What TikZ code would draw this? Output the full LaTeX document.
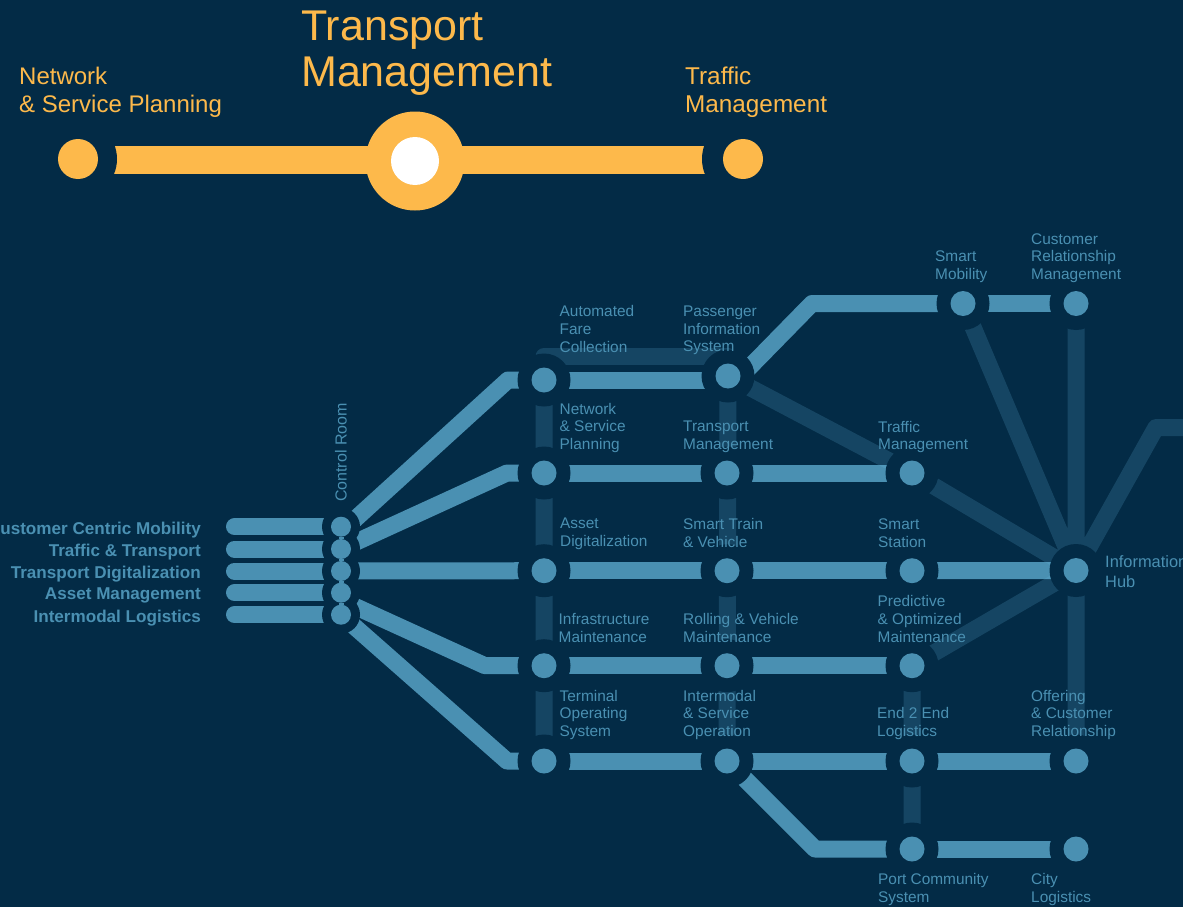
\documentclass[tikz,border=0pt]{standalone}
\usepackage{fontspec}
\setmainfont{Liberation Sans}
\usetikzlibrary{backgrounds}
\definecolor{navy}{HTML}{032B46}
\definecolor{lineblue}{HTML}{4A90B2}
\definecolor{paleblue}{HTML}{6CC0E8}
\definecolor{amber}{HTML}{FDB94B}
\tikzset{
  stopdot/.style={circle,fill=lineblue,inner sep=0pt,minimum size=25pt},
  roomdot/.style={circle,fill=lineblue,inner sep=0pt,minimum size=20pt},
  orangedot/.style={circle,fill=amber,inner sep=0pt,minimum size=40pt},
  liveline/.style={draw=lineblue,line width=17pt,line join=round},
  fadeline/.style={draw=paleblue,draw opacity=.18,line width=17pt,line join=round},
  stoplabel/.style={anchor=west,inner sep=0pt,align=left,text=lineblue,font=\fontsize{15.4}{17.6}\selectfont},
  toplabel/.style={anchor=west,inner sep=0pt,align=left,text=amber,font=\fontsize{24.3}{28}\selectfont},
}
\begin{document}
\begin{tikzpicture}[x=1pt,y=-1pt]
\useasboundingbox (0,0) rectangle (1183,907);

% top line
\node[orangedot] (prev) at (78,159) {};
\node[orangedot] (next) at (743,159) {};
\node[orangedot,minimum size=99pt] (now) at (415,161) {};
\node[circle,fill=white,inner sep=0pt,minimum size=48pt] (nowin) at (415,161) {};
\node[toplabel,font=\fontsize{24}{28}\selectfont] (prevtxt) at (19,92) {Network\\\& Service Planning};
\node[toplabel] (nexttxt) at (685,92) {Traffic\\Management};
\node[toplabel,font=\fontsize{43}{46}\selectfont] (nowtxt) at (301,53) {Transport\\Management};

% control room
\foreach \i/\y/\t in {
  1/526.7/Customer Centric Mobility,
  2/549/Traffic \& Transport,
  3/571/Transport Digitalization,
  4/592.7/Asset Management,
  5/614.7/Intermodal Logistics}{
  \node[roomdot] (cr\i) at (341,\y) {};
  \coordinate (bar\i) at (234.5,\y);
  \node[anchor=east,inner sep=0pt,text=lineblue,font=\fontsize{17.1}{20}\selectfont\bfseries] (crtxt\i) at (201,\y+3) {\t};
}
\node[rotate=90,anchor=west,inner sep=0pt,text=lineblue,font=\fontsize{16}{20}\selectfont] (roomtxt) at (341,502) {Control Room};

% stops
\foreach \n/\x/\y in {
  afc/544/380, pis/728/376,
  nsp/544/473, tpm/727/473, trf/912/473,
  adg/544/570.7, stv/727/570.7, sst/912/570.7, hub/1076/570.5,
  inf/544/665.7, rvm/727/665.7, pom/912/665.7,
  tos/544/761, iso/727/761, eel/912/761, ocr/1076/761,
  pcs/912/849, cil/1076/849,
  smo/963/303.5, crm/1076/303.5}{
  \node[stopdot] (\n) at (\x,\y) {};
}

% bends and free ends
\coordinate (fan1) at (341,532);
\coordinate (fan4) at (341,600);
\coordinate (bend1) at (508,380);
\coordinate (bend2) at (507,473);
\coordinate (bend4) at (485,665.7);
\coordinate (bend5) at (507,761);
\coordinate (pisout) at (741,376);
\coordinate (pisin) at (728,380);
\coordinate (bendup) at (812,303.5);
\coordinate (bendlow) at (815,849);
\coordinate (afctop) at (544,356.5);
\coordinate (pistop) at (728,356.5);
\coordinate (bendhub) at (1156,427.5);
\coordinate (offpage) at (1195,427.5);
\coordinate (barleft) at (78,159.8);
\coordinate (barright) at (743,159.8);

\node[stoplabel] (afctxt) at (559.5,329) {Automated\\Fare\\Collection};
\node[stoplabel] (pistxt) at (683,330.5) {Passenger\\Information\\System};
\node[stoplabel] (nsptxt) at (559.5,428) {Network\\\& Service\\Planning};
\node[stoplabel] (tpmtxt) at (683,437) {Transport\\Management};
\node[stoplabel] (trftxt) at (878,437) {Traffic\\Management};
\node[stoplabel] (adgtxt) at (560,534) {Asset\\Digitalization};
\node[stoplabel] (stvtxt) at (683,533) {Smart Train\\\& Vehicle};
\node[stoplabel] (ssttxt) at (878,533) {Smart\\Station};
\node[stoplabel] (inftxt) at (558.5,628) {Infrastructure\\Maintenance};
\node[stoplabel] (rvmtxt) at (683,628) {Rolling \& Vehicle\\Maintenance};
\node[stoplabel] (pomtxt) at (877.5,619) {Predictive\\\& Optimized\\Maintenance};
\node[stoplabel] (tostxt) at (559.5,715) {Terminal\\Operating\\System};
\node[stoplabel] (isotxt) at (683,715) {Intermodal\\\& Service\\Operation};
\node[stoplabel] (eeltxt) at (877,723.5) {End 2 End\\Logistics};
\node[stoplabel] (ocrtxt) at (1031,715) {Offering\\\& Customer\\Relationship};
\node[stoplabel] (pcstxt) at (878,889.5) {Port Community\\System};
\node[stoplabel] (ciltxt) at (1031,889.5) {City\\Logistics};
\node[stoplabel] (smotxt) at (935,267) {Smart\\Mobility};
\node[stoplabel] (crmtxt) at (1031,258) {Customer\\Relationship\\Management};
\node[stoplabel,font=\fontsize{16.4}{20}\selectfont] (hubtxt) at (1105,572) {Information\\Hub};

\begin{scope}[on background layer]
\fill[navy] (0,0) rectangle (1183,907);

\draw[draw=amber,line width=27.5pt] (barleft) -- (barright);
\fill[navy] (prev) circle[radius=39pt];
\fill[navy] (next) circle[radius=41pt];

\foreach \i in {1,...,5}
  \draw[liveline,line cap=round] (bar\i) -- (cr\i);

\draw[liveline] (fan1) -- (bend1) -- (afc);
\draw[liveline] (cr2) -- (bend2) -- (nsp);
\draw[liveline] (cr3) -- (adg);
\draw[liveline] (fan4) -- (bend4) -- (inf);
\draw[liveline] (cr5) -- (bend5) -- (tos);
\draw[liveline] (pisout) -- (bendup) -- (smo);
\draw[liveline] (iso) -- (bendlow) -- (pcs);
\draw[liveline] (afc) -- (pisin);
\foreach \a/\b in {nsp/tpm, tpm/trf, adg/stv, stv/sst, sst/hub, inf/rvm, rvm/pom,
  tos/iso, iso/eel, eel/ocr, pcs/cil, smo/crm}
  \draw[liveline] (\a) -- (\b);

\draw[fadeline]
  (afc) -- (tos)
  (pis) -- (iso)
  (pom) -- (pcs)
  (crm) -- (ocr)
  (smo) -- (hub)
  (pis) -- (trf)
  (trf) -- (hub)
  (pom) -- (hub)
  (hub) -- (bendhub) -- (offpage);
\draw[fadeline,line cap=round] (afctop) -- (pistop);

\foreach \n in {afc,pis,nsp,tpm,trf,adg,stv,sst,hub,inf,rvm,pom,tos,iso,eel,ocr,pcs,cil,smo,crm}
  \fill[navy] (\n) circle[radius=26.5pt];
\foreach \i in {1,...,5}
  \fill[navy] (cr\i) circle[radius=19pt];
\draw[draw=lineblue,line width=5pt] (cr1) -- (cr2) -- (cr3) -- (cr4) -- (cr5);
\end{scope}
\end{tikzpicture}
\end{document}
